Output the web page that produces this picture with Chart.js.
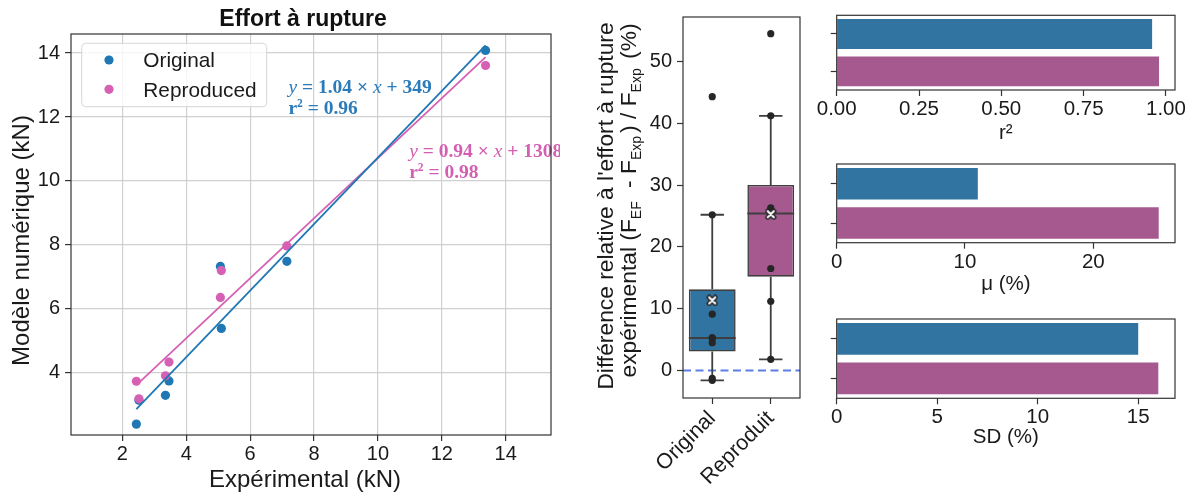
<!DOCTYPE html>
<html><head><meta charset="utf-8">
<script src="https://cdn.jsdelivr.net/npm/chart.js@4.4.1/dist/chart.umd.min.js"></script>
<style>
html,body{margin:0;padding:0;background:#fff;}
body{width:1192px;height:492px;position:relative;overflow:hidden;}
canvas{position:absolute;}
</style></head><body>
<canvas id="cScatter" width="560" height="492" style="left:0;top:0"></canvas>
<canvas id="cBox" width="245" height="492" style="left:560px;top:0"></canvas>
<canvas id="cR2" width="387" height="150" style="left:805px;top:0"></canvas>
<canvas id="cMu" width="387" height="155" style="left:805px;top:150px"></canvas>
<canvas id="cSD" width="387" height="187" style="left:805px;top:305px"></canvas>
<script>
// ---------------- DATA ----------------
const seriesNames = ['Original', 'Reproduced'];
const boxCategories = ['Original', 'Reproduit'];
const expOriginal = [2.44, 2.52, 3.35, 3.46, 5.07, 5.10, 7.15, 13.37];
const numOriginal = [2.40, 3.15, 3.30, 3.75, 7.33, 5.39, 7.49, 14.08];
const expReproduced = [2.44, 2.52, 3.35, 3.46, 5.07, 5.10, 7.15, 13.37];
const numReproduced = [3.74, 3.19, 3.91, 4.34, 6.36, 7.20, 7.97, 13.61];
const fitLineX = [2.44, 13.37];
const fitOriginalY = [2.87, 14.24];
const fitReproducedY = [3.62, 13.87];
const fitSlope = [1.04, 0.94];
const fitIntercept = [349, 1308];
const fitR2 = [0.96, 0.98];
const scatterXTicks = [2, 4, 6, 8, 10, 12, 14];
const scatterYTicks = [4, 6, 8, 10, 12, 14];
const diffOriginal = [44.3, 25.2, 9.1, 5.3, 5.2, 4.5, -1.3, -1.6];
const diffReproduced = [54.5, 41.2, 26.3, 25.6, 25.2, 16.5, 11.2, 1.8];
const boxYTicks = [0, 10, 20, 30, 40, 50];
const r2Values = [0.958, 0.979];
const muValues = [11.0, 25.1];
const sdValues = [15.0, 16.0];
const r2Ticks = [0, 0.25, 0.5, 0.75, 1.0];
const muTicks = [0, 10, 20];
const sdTicks = [0, 5, 10, 15];

// ---------------- STYLE ----------------
const FONT = '"Liberation Sans", Arial, sans-serif';
const TXT = '#1a1a1a';
const BLUE = '#1f77b4', PINK = '#d660b4';
const BLUE_TXT = '#2b7bba', PINK_TXT = '#d35fb2';
const BOXBLUE = '#3274a1', BOXPINK = '#a5598e';
const EDGE = '#3f3f3f';
const SPINE = '#333333';

function fixedTicks(arr) { return s => { s.ticks = arr.map(v => ({ value: v })); }; }

const framePlugin = {
  id: 'frame',
  afterDraw(chart) {
    const { ctx, chartArea: a } = chart;
    ctx.save();
    ctx.strokeStyle = SPINE; ctx.lineWidth = 1.2;
    ctx.strokeRect(a.left, a.top, a.right - a.left, a.bottom - a.top);
    ctx.restore();
  }
};

function drawSegments(ctx, x, y, segs) {
  let cx = x;
  for (const s of segs) {
    ctx.font = s.font;
    ctx.fillText(s.t, cx, y + (s.dy || 0));
    cx += ctx.measureText(s.t).width + (s.gap || 0);
  }
}

const scatterDecor = {
  id: 'scatterDecor',
  afterDraw(chart) {
    const { ctx, chartArea: a, scales } = chart;
    ctx.save();
    ctx.textBaseline = 'alphabetic';
    // title
    ctx.fillStyle = '#111';
    ctx.font = 'bold 23px ' + FONT;
    ctx.textAlign = 'center';
    ctx.fillText('Effort à rupture', a.left + 232, 26);
    // axis titles
    ctx.fillStyle = TXT;
    ctx.font = '24px ' + FONT;
    ctx.fillText('Expérimental (kN)', a.left + 234, 486.5);
    ctx.save();
    ctx.translate(a.left - 42, a.top + 206.5);
    ctx.rotate(-Math.PI / 2);
    ctx.fillText('Modèle numérique (kN)', 0, 0);
    ctx.restore();
    // legend
    const lx = a.left + 10.7, ly = a.top + 9.3, lw = 185, lh = 63.4;
    ctx.beginPath();
    ctx.roundRect(lx, ly, lw, lh, 4);
    ctx.fillStyle = 'rgba(255,255,255,0.8)'; ctx.fill();
    ctx.strokeStyle = '#d6d6d6'; ctx.lineWidth = 1; ctx.stroke();
    const cols = [BLUE, PINK];
    ctx.textAlign = 'left';
    ctx.font = '20.8px ' + FONT;
    seriesNames.forEach((n, i) => {
      const cy = ly + 16.7 + i * 29.3;
      ctx.beginPath(); ctx.arc(lx + 27.3, cy, 4.6, 0, Math.PI * 2);
      ctx.fillStyle = cols[i]; ctx.fill();
      ctx.fillStyle = TXT;
      ctx.fillText(n, lx + 61.6, cy + 7.2);
    });
    // regression annotations
    const anchors = [{ x: 7.2, y: 12.76, c: BLUE_TXT }, { x: 10.98, y: 10.75, c: PINK_TXT }];
    anchors.forEach((an, i) => {
      const px = scales.x.getPixelForValue(an.x), py = scales.y.getPixelForValue(an.y);
      ctx.fillStyle = an.c;
      const B = 'bold 19.5px "Liberation Serif"', I = 'italic 19.5px "Liberation Serif"';
      drawSegments(ctx, px, py, [
        { t: 'y', font: I }, { t: ' = ' + fitSlope[i].toFixed(2) + ' × ', font: B },
        { t: 'x', font: I }, { t: ' + ' + fitIntercept[i], font: B }]);
      drawSegments(ctx, px, py + 21.5, [
        { t: 'r', font: B }, { t: '2', font: 'bold 11.5px "Liberation Serif"', dy: -7.5 },
        { t: ' = ' + fitR2[i].toFixed(2), font: B }]);
    });
    ctx.restore();
  }
};

// ---------------- SCATTER ----------------
new Chart(document.getElementById('cScatter'), {
  type: 'scatter',
  data: {
    datasets: [
      { type: 'line', label: 'fitO', data: fitLineX.map((x, i) => ({ x, y: fitOriginalY[i] })),
        borderColor: BLUE, borderWidth: 1.8, pointRadius: 0, fill: false, order: 0 },
      { type: 'line', label: 'fitR', data: fitLineX.map((x, i) => ({ x, y: fitReproducedY[i] })),
        borderColor: PINK, borderWidth: 1.8, pointRadius: 0, fill: false, order: 0 },
      { label: seriesNames[1], data: expReproduced.map((x, i) => ({ x, y: numReproduced[i] })),
        backgroundColor: PINK, borderColor: PINK, borderWidth: 0, pointRadius: 4.6, order: 1 },
      { label: seriesNames[0], data: expOriginal.map((x, i) => ({ x, y: numOriginal[i] })),
        backgroundColor: BLUE, borderColor: BLUE, borderWidth: 0, pointRadius: 4.6, order: 2 }
    ]
  },
  options: {
    responsive: false, animation: false, events: [],
    layout: { padding: { top: 34, right: 9, left: 0, bottom: 0 } },
    plugins: { legend: { display: false }, tooltip: { enabled: false } },
    scales: {
      x: {
        type: 'linear', min: 0.394, max: 15.418,
        afterBuildTicks: fixedTicks(scatterXTicks),
        afterFit: s => { s.height = 57; },
        grid: { color: '#d0d0d0', lineWidth: 1.2, tickLength: 6, tickColor: SPINE, tickWidth: 1.2 },
        border: { display: false },
        ticks: { font: { family: FONT, size: 20 }, color: TXT, padding: 1, maxRotation: 0 }
      },
      y: {
        type: 'linear', min: 2.06, max: 14.594,
        afterBuildTicks: fixedTicks(scatterYTicks),
        afterFit: s => { s.width = 71; },
        grid: { color: '#d0d0d0', lineWidth: 1.2, tickLength: 6, tickColor: SPINE, tickWidth: 1.2 },
        border: { display: false },
        ticks: { font: { family: FONT, size: 20 }, color: TXT, padding: 5 }
      }
    }
  },
  plugins: [scatterDecor, framePlugin]
});

// ---------------- BOX PLOT ----------------
function quantile(arr, p) {
  const s = [...arr].sort((a, b) => a - b);
  const idx = (s.length - 1) * p, lo = Math.floor(idx), hi = Math.ceil(idx);
  return s[lo] + (s[hi] - s[lo]) * (idx - lo);
}
function boxStats(arr) {
  const q1 = quantile(arr, 0.25), med = quantile(arr, 0.5), q3 = quantile(arr, 0.75);
  const iqr = q3 - q1;
  const inside = arr.filter(v => v >= q1 - 1.5 * iqr && v <= q3 + 1.5 * iqr);
  return { q1, med, q3, lo: Math.min(...inside), hi: Math.max(...inside),
    mean: arr.reduce((a, b) => a + b, 0) / arr.length };
}
const stats = [boxStats(diffOriginal), boxStats(diffReproduced)];

function makeXMarker() {
  const c = document.createElement('canvas'); c.width = 12; c.height = 12;
  const g = c.getContext('2d');
  g.lineCap = 'round';
  g.beginPath(); g.moveTo(3, 3); g.lineTo(9, 9); g.moveTo(9, 3); g.lineTo(3, 9);
  g.strokeStyle = '#222'; g.lineWidth = 5; g.stroke();
  g.strokeStyle = '#fff'; g.lineWidth = 2.2; g.stroke();
  return c;
}

const boxDecor = {
  id: 'boxDecor',
  beforeDatasetsDraw(chart) {
    const { ctx, chartArea: a, scales } = chart;
    const y0 = scales.y.getPixelForValue(0);
    ctx.save();
    ctx.strokeStyle = 'rgba(65,105,225,0.85)'; ctx.lineWidth = 2; ctx.setLineDash([8, 4.5]);
    ctx.beginPath(); ctx.moveTo(a.left, y0); ctx.lineTo(a.right, y0); ctx.stroke();
    ctx.restore();
  },
  afterDatasetDraw(chart, args) {
    if (args.meta.type !== 'bar') return;
    const { ctx, scales } = chart;
    ctx.save();
    ctx.strokeStyle = EDGE; ctx.lineWidth = 1.8;
    stats.forEach((s, i) => {
      const el = args.meta.data[i];
      const cx = el.x, hw = el.width / 2;
      const Y = v => scales.y.getPixelForValue(v);
      ctx.beginPath();
      ctx.moveTo(cx, Y(s.q3)); ctx.lineTo(cx, Y(s.hi));
      ctx.moveTo(cx - hw / 2, Y(s.hi)); ctx.lineTo(cx + hw / 2, Y(s.hi));
      ctx.moveTo(cx, Y(s.q1)); ctx.lineTo(cx, Y(s.lo));
      ctx.moveTo(cx - hw / 2, Y(s.lo)); ctx.lineTo(cx + hw / 2, Y(s.lo));
      ctx.moveTo(cx - hw, Y(s.med)); ctx.lineTo(cx + hw, Y(s.med));
      ctx.stroke();
    });
    ctx.restore();
  },
  afterDraw(chart) {
    const { ctx, chartArea: a } = chart;
    const cy = (a.top + a.bottom) / 2;
    ctx.save();
    ctx.fillStyle = TXT;
    ctx.textBaseline = 'alphabetic';
    ctx.translate(a.left - 70, cy - 1.5);
    ctx.rotate(-Math.PI / 2);
    ctx.font = '22.8px ' + FONT; ctx.textAlign = 'center';
    ctx.fillText("Différence relative à l'effort à rupture", 0, 0);
    ctx.restore();
    ctx.save();
    ctx.fillStyle = TXT;
    ctx.textBaseline = 'alphabetic'; ctx.textAlign = 'left';
    ctx.translate(a.left - 47, cy - 7);
    ctx.rotate(-Math.PI / 2);
    const M = '22.8px ' + FONT, S = '14px ' + FONT;
    const segs = [
      { t: 'expérimental (F', font: M }, { t: 'EF', font: S, dy: 5, gap: 7 },
      { t: ' - F', font: M }, { t: 'Exp', font: S, dy: 5, gap: 3 },
      { t: ') / F', font: M }, { t: 'Exp', font: S, dy: 5, gap: 3 },
      { t: ' (%)', font: M }];
    let w = 0;
    segs.forEach(s => { ctx.font = s.font; w += ctx.measureText(s.t).width + (s.gap || 0); });
    drawSegments(ctx, -w / 2, 0, segs);
    ctx.restore();
  }
};

const pointsData = [];
diffOriginal.forEach(v => pointsData.push({ x: boxCategories[0], y: v }));
diffReproduced.forEach(v => pointsData.push({ x: boxCategories[1], y: v }));

new Chart(document.getElementById('cBox'), {
  type: 'bar',
  data: {
    labels: boxCategories,
    datasets: [
      { type: 'bar', data: stats.map(s => [s.q1, s.q3]), backgroundColor: [BOXBLUE, BOXPINK],
        borderColor: EDGE, borderWidth: 1.6, borderSkipped: false,
        barPercentage: 0.8, categoryPercentage: 1, order: 3 },
      { type: 'scatter', data: pointsData, backgroundColor: '#262626', borderWidth: 0,
        pointRadius: 3.6, order: 1 },
      { type: 'scatter', data: stats.map((s, i) => ({ x: boxCategories[i], y: s.mean })),
        pointStyle: makeXMarker(), order: 0 }
    ]
  },
  options: {
    responsive: false, animation: false, events: [],
    layout: { padding: { top: 11, right: 2, left: 0, bottom: 0 } },
    plugins: { legend: { display: false }, tooltip: { enabled: false } },
    scales: {
      x: {
        type: 'category', offset: true,
        afterFit: s => { s.height = 94; },
        grid: { offset: false, drawOnChartArea: false, tickLength: 6, tickColor: SPINE, tickWidth: 1.2 },
        border: { display: false },
        ticks: { font: { family: FONT, size: 21.5 }, color: TXT, padding: 2, minRotation: 45, maxRotation: 45 }
      },
      y: {
        type: 'linear', min: -4.46, max: 57.2,
        afterBuildTicks: fixedTicks(boxYTicks),
        afterFit: s => { s.width = 123; },
        grid: { drawOnChartArea: false, tickLength: 6, tickColor: SPINE, tickWidth: 1.2 },
        border: { display: false },
        ticks: { font: { family: FONT, size: 20 }, color: TXT, padding: 5 }
      }
    }
  },
  plugins: [boxDecor, framePlugin]
});

// ---------------- BAR PANELS ----------------
function barPanel(id, values, ticks, max, fmt, titleText, axisH, titlePadB, padTop) {
  new Chart(document.getElementById(id), {
    type: 'bar',
    data: {
      labels: boxCategories,
      datasets: [{ data: values, backgroundColor: [BOXBLUE, BOXPINK], borderWidth: 0,
        barPercentage: 0.8, categoryPercentage: 1 }]
    },
    options: {
      indexAxis: 'y', responsive: false, animation: false, events: [],
      layout: { padding: { top: padTop, right: 17, left: 0, bottom: 0 } },
      plugins: { legend: { display: false }, tooltip: { enabled: false } },
      scales: {
        x: {
          type: 'linear', min: 0, max: max,
          afterBuildTicks: fixedTicks(ticks),
          afterFit: s => { s.height = axisH; },
          grid: { drawOnChartArea: false, tickLength: 6, tickColor: SPINE, tickWidth: 1.2 },
          border: { display: false },
          ticks: { font: { family: FONT, size: 20.5 }, color: TXT, padding: 1, maxRotation: 0, callback: fmt },
          title: { display: true, text: titleText, color: TXT,
            font: { family: FONT, size: 20.5, lineHeight: 1.1 }, padding: { top: 0, bottom: titlePadB } }
        },
        y: {
          type: 'category',
          afterFit: s => { s.width = 31.7; },
          grid: { offset: false, drawOnChartArea: false, tickLength: 6, tickColor: SPINE, tickWidth: 1.2 },
          border: { display: false },
          ticks: { callback: () => '' }
        }
      }
    },
    plugins: [framePlugin]
  });
}
barPanel('cR2', r2Values, r2Ticks, 1.0275, v => v.toFixed(2), 'r²', 60, 5, 15.3);
barPanel('cMu', muValues, muTicks, 26.37, v => String(v), 'μ (%)', 62.3, 9.5, 14);
barPanel('cSD', sdValues, sdTicks, 16.83, v => String(v), 'SD (%)', 93.7, 43, 14);
</script>
</body></html>
